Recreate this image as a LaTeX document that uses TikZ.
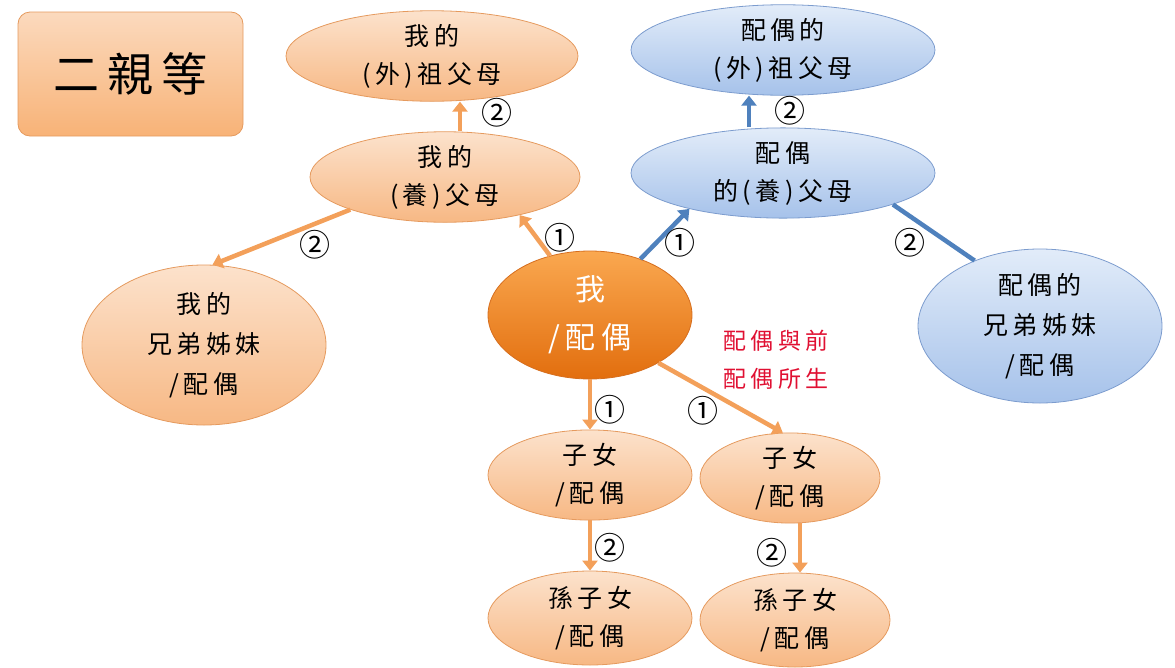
\documentclass[tikz,border=0pt]{standalone}
\usepackage{fontspec}
\setmainfont{Noto Sans CJK TC}[LetterSpace=18]
\usetikzlibrary{arrows.meta,shapes.geometric}
\definecolor{oline}{RGB}{229,154,94}
\definecolor{otop}{RGB}{252,226,204}
\definecolor{obot}{RGB}{247,184,132}
\definecolor{ctop}{RGB}{250,168,80}
\definecolor{cbot}{RGB}{226,110,14}
\definecolor{cline}{RGB}{214,110,30}
\definecolor{btop}{RGB}{226,236,249}
\definecolor{bbot}{RGB}{166,194,234}
\definecolor{bline}{RGB}{124,156,206}
\definecolor{oarr}{RGB}{243,160,90}
\definecolor{barr}{RGB}{79,129,189}
\definecolor{redtxt}{RGB}{224,16,50}
\tikzset{
  oell/.style={ellipse, draw=oline, line width=0.8pt, top color=otop, bottom color=obot, inner sep=0pt, align=center, font=\fontsize{25}{38}\selectfont},
  bell/.style={ellipse, draw=bline, line width=0.8pt, top color=btop, bottom color=bbot, inner sep=0pt, align=center, font=\fontsize{25}{38}\selectfont},
  cell/.style={ellipse, draw=cline, line width=0.8pt, top color=ctop, bottom color=cbot, inner sep=0pt, align=center, text=white, font=\fontsize{30}{48}\selectfont},
  oarrow/.style={draw=oarr, line width=4.5pt, -{Triangle[length=10pt,width=15pt]}},
  barrow/.style={draw=barr, line width=4.5pt, -{Triangle[length=10pt,width=15pt]}},
  bline/.style={draw=barr, line width=4.5pt},
  num/.style={font=\fontsize{31}{31}\selectfont, inner sep=0pt},
  titlebox/.style={rectangle, rounded corners=12pt, draw=oline, line width=0.8pt, top color=otop!80!obot, bottom color=obot!90!orange, minimum width=225pt, minimum height=124pt, font=\fontsize{46}{46}\selectfont},
}
\begin{document}
\begin{tikzpicture}[x=1pt,y=-1pt]
\useasboundingbox (0,0) rectangle (1175,667);
% title
\node[titlebox] (title) at (130.5,74) {二親等};
% nodes
\node[oell, minimum width=292pt, minimum height=88pt] (E1) at (432,56) {我的\\(外)祖父母};
\node[oell, minimum width=270pt, minimum height=90pt] (E2) at (445,177) {我的\\(養)父母};
\node[oell, minimum width=244pt, minimum height=160pt, font=\fontsize{25}{40}\selectfont] (E3) at (204,345) {我的\\兄弟姊妹\\/配偶};
\node[cell, minimum width=204pt, minimum height=128pt] (E4) at (590,315) {我\\/配偶};
\node[bell, minimum width=304pt, minimum height=86pt] (E5) at (783,50) {配偶的\\(外)祖父母};
\node[bell, minimum width=304pt, minimum height=86pt] (E6) at (783,173) {配偶\\的(養)父母};
\node[bell, minimum width=244pt, minimum height=154pt, font=\fontsize{25}{40}\selectfont] (E7) at (1040,326) {配偶的\\兄弟姊妹\\/配偶};
\node[oell, minimum width=204pt, minimum height=90pt] (E8) at (590,475) {子女\\/配偶};
\node[oell, minimum width=180pt, minimum height=88pt] (E9) at (790,478) {子女\\/配偶};
\node[oell, minimum width=204pt, minimum height=94pt] (E10) at (590,618) {孫子女\\/配偶};
\node[oell, minimum width=190pt, minimum height=94pt] (E11) at (795,620) {孫子女\\/配偶};
% red note
\node[text=redtxt, align=center, font=\fontsize{23}{38}\selectfont] (note) at (776,360) {配偶與前\\配偶所生};
% connectors
\draw[oarrow] ([xshift=15pt]E2.north) -- ([xshift=28pt]E1.south);
\draw[oarrow] (E4.124) -- (E2.-27);
\draw[oarrow] (E2.199) -- (E3.84);
\draw[barrow] (E4.48) -- (E6.201);
\draw[barrow] ([xshift=-34pt]E6.north) -- ([xshift=-34pt]E5.south);
\draw[bline] (E6.-16) -- (E7.135);
\draw[oarrow] (E4.south) -- (E8.north);
\draw[oarrow] (E4.-35) -- (E9.99);
\draw[oarrow] (E8.south) -- (E10.north);
\draw[oarrow] ([xshift=10pt]E9.south) -- ([xshift=5pt]E11.north);
% labels
\node[num] (n1) at (497,113) {②};
\node[num] (n2) at (560,238) {①};
\node[num] (n3) at (315,245) {②};
\node[num] (n4) at (680,243) {①};
\node[num] (n5) at (790,111) {②};
\node[num] (n6) at (910,243) {②};
\node[num] (n7) at (610,410) {①};
\node[num] (n8) at (703,411) {①};
\node[num] (n9) at (610,548) {②};
\node[num] (n10) at (772,553) {②};
\end{tikzpicture}
\end{document}
